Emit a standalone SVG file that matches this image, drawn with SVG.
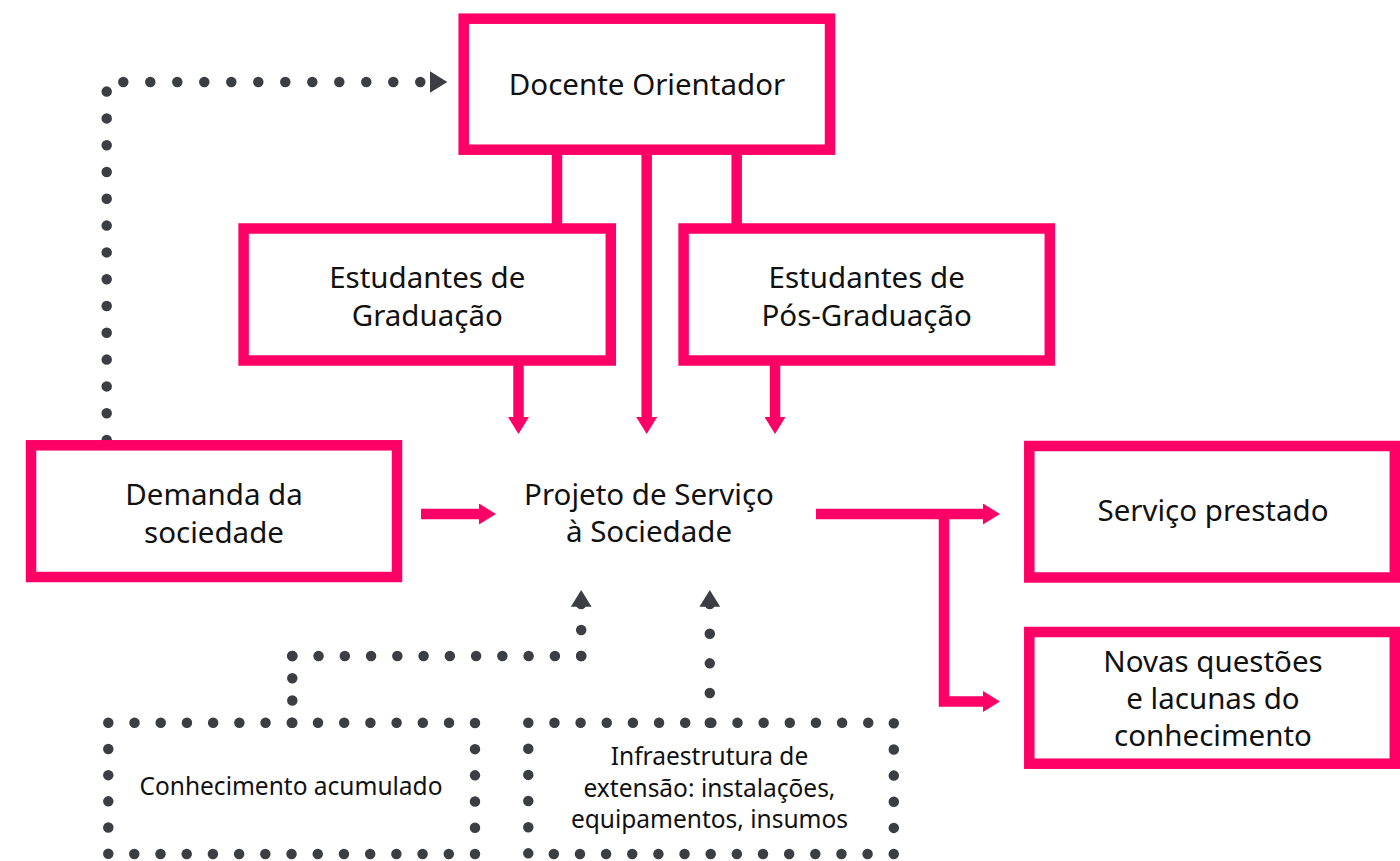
<svg xmlns="http://www.w3.org/2000/svg" width="1400" height="861" viewBox="0 0 1400 861">
<style>
.box{fill:#fff;stroke:#ff0066;stroke-width:10.5}
.pk{fill:none;stroke:#ff0066;stroke-width:10.5;stroke-linejoin:miter}
.dot{fill:none;stroke:#3b3f44;stroke-width:10.5;stroke-linecap:round}
.dh{fill:#3b3f44}
.t{font-family:"Noto Sans","Open Sans","DejaVu Sans",sans-serif;font-size:29.5px;fill:#111;text-anchor:middle}
.s{font-family:"Noto Sans","Open Sans","DejaVu Sans",sans-serif;font-size:24.5px;fill:#111;text-anchor:middle}
</style>
<defs>
<marker id="ah" markerUnits="userSpaceOnUse" markerWidth="18" markerHeight="21" viewBox="0 0 18 21" refX="0.5" refY="10.5" orient="auto">
<path d="M0,0 L17,10.5 L0,21 Z" fill="#ff0066"/>
</marker>
</defs>
<rect width="1400" height="861" fill="#fff"/>
<g id="connectors">
<path class="pk" d="M557,155 V224"/>
<path class="pk" d="M736.7,155 V224"/>
<path class="pk" d="M646.7,155 V417.5" marker-end="url(#ah)"/>
<path class="pk" d="M518.5,365 V417.5" marker-end="url(#ah)"/>
<path class="pk" d="M775,365 V417.5" marker-end="url(#ah)"/>
<path class="pk" d="M421,514 H479.5" marker-end="url(#ah)"/>
<path class="pk" d="M816,514 H983.5" marker-end="url(#ah)"/>
<path class="pk" d="M944,514 V701.5 H983.5" marker-end="url(#ah)"/>
<path class="dot" d="M106.7,440 V91.6" stroke-dasharray="0 26.799"/>
<path class="dot" d="M123.3,82 H420.3" stroke-dasharray="0 26.999"/>
<polygon class="dh" points="430,71.3 447.3,82 430,92.7"/>
<path class="dot" d="M292.3,722.7 V656" stroke-dasharray="0 22.229"/>
<path class="dot" d="M292.3,656 H581.2" stroke-dasharray="0 26.26"/>
<path class="dot" d="M581.2,656 V604" stroke-dasharray="0 25.999"/>
<polygon class="dh" points="570.8,606.7 581.2,590 591.6,606.7"/>
<path class="dot" d="M709.8,722.7 V604" stroke-dasharray="0 29.674"/>
<polygon class="dh" points="699.4,606.7 709.8,590 720.2,606.7"/>
</g>
<g id="docente">
<rect class="box" x="463.7" y="18.7" width="366.3" height="131"/>
<text class="t" x="647" y="95">Docente Orientador</text>
</g>
<g id="graduacao">
<rect class="box" x="243.6" y="228.5" width="367.2" height="132"/>
<text class="t" x="427.3" y="288">Estudantes de</text>
<text class="t" x="427.3" y="325.5">Graduação</text>
</g>
<g id="posgraduacao">
<rect class="box" x="683.6" y="228.5" width="366.2" height="132"/>
<text class="t" x="866.7" y="288">Estudantes de</text>
<text class="t" x="866.7" y="325.5">Pós-Graduação</text>
</g>
<g id="demanda">
<rect class="box" x="31" y="445.3" width="366" height="131.7"/>
<text class="t" x="214" y="505">Demanda da</text>
<text class="t" x="214" y="542.5">sociedade</text>
</g>
<g id="projeto">
<text class="t" x="649" y="505">Projeto de Serviço</text>
<text class="t" x="649" y="542.2">à Sociedade</text>
</g>
<g id="servico">
<rect class="box" x="1029.3" y="446" width="365.5" height="131.5"/>
<text class="t" x="1213" y="521">Serviço prestado</text>
</g>
<g id="novas">
<rect class="box" x="1029.3" y="632" width="365.5" height="131.7"/>
<text class="t" x="1213" y="671.6">Novas questões</text>
<text class="t" x="1213" y="708.8">e lacunas do</text>
<text class="t" x="1213" y="746">conhecimento</text>
</g>
<g id="conhecimento">
<rect class="dot" x="108.3" y="722.7" width="366.7" height="131.3" stroke-dasharray="0 26.21"/>
<text class="s" x="291" y="795">Conhecimento acumulado</text>
</g>
<g id="infraestrutura">
<rect class="dot" x="528.3" y="722.7" width="365.5" height="131.3" stroke-dasharray="0 26.15"/>
<text class="s" x="709.5" y="765">Infraestrutura de</text>
<text class="s" x="709.5" y="796.7">extensão: instalações,</text>
<text class="s" x="709.5" y="828.3">equipamentos, insumos</text>
</g>
</svg>
